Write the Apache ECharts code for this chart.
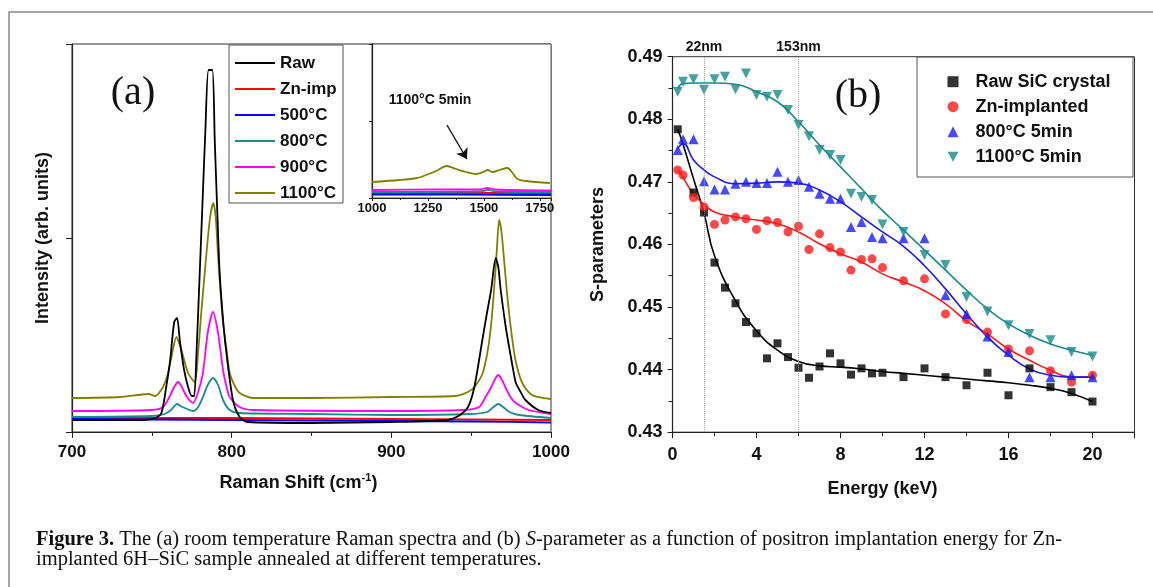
<!DOCTYPE html>
<html>
<head>
<meta charset="utf-8">
<title>Figure 3</title>
<script src="https://cdn.jsdelivr.net/npm/echarts@6.0.0/dist/echarts.min.js"></script>
<style>
  html, body { margin: 0; padding: 0; background: #fff; }
  #chart { width: 1153px; height: 587px; }
</style>
</head>
<body>
<div id="chart"></div>
<script>
  // (a) Raman spectra, [shift cm-1, intensity arb. units]
  const ramanRaw = [[700, 12], [745, 12], [752, 14], [756, 19], [759, 45], [761.5, 72], [764, 110], [765.8, 114],
    [767.5, 92], [770, 64], [772.5, 46], [775, 36], [776.5, 36], [778, 80], [780, 159], [782, 240], [783.5, 300],
    [785.5, 362], [787.9, 362], [789.4, 292], [791, 220], [792.5, 159], [795, 105], [797, 75], [800.8, 32], [805, 15],
    [810, 10], [850, 9], [900, 10], [935, 12], [942, 16], [948, 25], [952, 45], [957, 92], [960, 120], [962.5, 142],
    [965.4, 174], [967, 165], [968.5, 142], [971, 112], [973, 92], [976, 65], [978, 49], [981, 40], [984, 32],
    [992, 22], [1000, 19]]
  const ramanZn = [[700, 14], [750, 14], [800, 14], [850, 13.5], [900, 13], [950, 12.5], [1000, 12]]
  const raman500 = [[700, 13], [750, 12.5], [800, 12], [850, 11.5], [900, 11], [950, 10.5], [1000, 9.5]]
  const raman800 = [[700, 15], [750, 16], [758, 18], [762, 22], [765.8, 28], [768, 26], [770.6, 24], [775.8, 21],
    [779, 25], [782, 35], [785, 47], [788.3, 54], [791.5, 47], [794.6, 32], [798.75, 22], [805, 19], [850, 18],
    [900, 17], [950, 18], [960, 20], [964, 25], [967, 28], [970, 25], [974, 20], [980, 17], [1000, 14]]
  const raman900 = [[700, 21], [750, 22], [757, 25], [761, 35], [764, 45], [766.5, 50], [768.5, 46], [770.6, 39],
    [773, 33], [775.8, 29], [779, 40], [782, 59], [785, 99], [788.3, 120], [791.5, 99], [794.6, 62], [797, 44],
    [798.75, 35], [805, 25], [813, 22], [900, 21], [945, 22], [955, 25], [959, 35], [962.3, 44], [965, 53],
    [967, 57], [969, 53], [971.7, 44], [975, 34], [978, 29], [986, 22], [1000, 18]]
  const raman1100 = [[700, 34], [730, 35], [748, 38], [752, 36], [757, 45], [760, 58], [762.3, 75], [765.4, 95],
    [768.5, 82], [772.7, 59], [776.9, 50], [779, 80], [781, 120], [784, 175], [786.5, 215], [788.5, 229],
    [790, 215], [791.5, 175], [793, 140], [794.6, 109], [797, 80], [798.75, 59], [802, 46], [805, 39], [813, 34],
    [850, 34], [900, 35], [940, 36], [948, 40], [952, 45], [957, 58], [960, 78], [962, 100], [964, 135], [966, 180],
    [967.5, 212], [969, 200], [971, 165], [973, 130], [975.8, 92], [978, 70], [982, 49], [988, 37], [1000, 33]]

  // inset, 1000-1800 cm-1
  const insetRaw = [[1000, 4], [1400, 4], [1800, 3.5]]
  const insetZn = [[1000, 5], [1400, 5], [1800, 5]]
  const inset500 = [[1000, 3.5], [1400, 3.3], [1800, 3]]
  const inset800 = [[1000, 6], [1480, 6.5], [1520, 8], [1560, 6.5], [1800, 6]]
  const inset900 = [[1000, 8], [1300, 8.5], [1480, 8.5], [1515, 10], [1550, 8.5], [1800, 7.5]]
  const inset1100 = [[1000, 16], [1123, 18], [1200, 20], [1242, 23], [1287, 27], [1334, 32], [1376, 29],
    [1420, 26], [1465, 24], [1498, 26], [1517, 28], [1539, 26], [1569, 28], [1606, 30], [1628, 25], [1650, 19],
    [1688, 17], [1795, 15]]
  const arrowFrom = [1335, 73]
  const arrowTo = [1424, 39]

  const ramanNames = ['Raw', 'Zn-imp', '500°C', '800°C', '900°C', '1100°C']
  const ramanColors = ['#000000', '#ff0000', '#0000ff', '#1a8a8a', '#ff00ff', '#808000']
  const ramanData = [ramanRaw, ramanZn, raman500, raman800, raman900, raman1100]
  const insetData = [insetRaw, insetZn, inset500, inset800, inset900, inset1100]

  // (b) S-parameter vs positron energy
  const energy = [0.25, 0.5, 1, 1.5, 2, 2.5, 3, 3.5, 4, 4.5, 5, 5.5, 6, 6.5, 7, 7.5, 8, 8.5, 9, 9.5,
    10, 11, 12, 13, 14, 15, 16, 17, 18, 19, 20]
  const sRaw = [0.4784, null, 0.4683, 0.4651, 0.4571, 0.4531, 0.4506, 0.4476, 0.4458, 0.4418, 0.4442, 0.4420,
    0.4403, 0.4387, 0.4405, 0.4426, 0.4410, 0.4392, 0.4402, 0.4394, 0.4395, 0.4388, 0.4402, 0.4388, 0.4375,
    0.4395, 0.4359, 0.4402, 0.4372, 0.4364, 0.4349]
  const sZn = [0.4719, 0.4711, 0.4675, 0.4660, 0.4632, 0.4639, 0.4644, 0.4641, 0.4624, 0.4638, 0.4635, 0.4620,
    0.4629, 0.4592, 0.4617, 0.4595, 0.4588, 0.4559, 0.4576, 0.4577, 0.4563, 0.4542, 0.4545, 0.4489, 0.4480,
    0.4460, 0.4433, 0.4430, 0.4398, 0.4380, 0.4391]
  const s800 = [0.4751, 0.4768, 0.4768, 0.4701, 0.4688, 0.4688, 0.4697, 0.4700, 0.4698, 0.4698, 0.4716, 0.4700,
    0.4703, 0.4692, 0.4681, 0.4673, 0.4673, 0.4628, 0.4636, 0.4612, 0.4610, 0.4610, 0.4610, 0.4519, 0.4489,
    0.4453, 0.4428, 0.4388, 0.4388, 0.4391, 0.4388]
  const s1100 = [0.4844, 0.4860, 0.4864, 0.4847, 0.4864, 0.4868, 0.4848, 0.4873, 0.4839, 0.4836, 0.4839, 0.4815,
    0.4791, 0.4773, 0.4751, 0.4743, 0.4735, 0.4681, 0.4676, 0.4671, 0.4632, 0.4620, 0.4583, 0.4567, 0.4516,
    0.4493, 0.4471, 0.4457, 0.4447, 0.4428, 0.4421]

  const fitE = [0.25, 0.5, 1, 1.5, 2, 3, 4, 5, 6, 7, 8, 9, 10, 11, 12, 13, 14, 15, 16, 17, 18, 19, 20]
  const fitRaw = [0.4784, 0.4760, 0.4705, 0.4650, 0.4582, 0.4510, 0.4462, 0.4431, 0.4413, 0.4406, 0.4404, 0.4401,
    0.4397, 0.4394, 0.4391, 0.4388, 0.4385, 0.4382, 0.4379, 0.4375, 0.4370, 0.4362, 0.4349]
  const fitZn = [0.4720, 0.4707, 0.4681, 0.4664, 0.4652, 0.4644, 0.4639, 0.4633, 0.4620, 0.4601, 0.4585, 0.4572,
    0.4553, 0.4540, 0.4526, 0.4505, 0.4478, 0.4457, 0.4433, 0.4415, 0.4399, 0.4388, 0.4388]
  const fit800 = [0.4753, 0.4761, 0.4735, 0.4719, 0.4708, 0.4697, 0.4698, 0.4700, 0.4698, 0.4687, 0.4668, 0.4644,
    0.4620, 0.4597, 0.4566, 0.4529, 0.4489, 0.4452, 0.4423, 0.4401, 0.4391, 0.4388, 0.4388]
  const fit1100 = [0.4849, 0.4857, 0.4858, 0.4858, 0.4858, 0.4856, 0.4844, 0.4828, 0.4796, 0.4759, 0.4724, 0.4689,
    0.4654, 0.4623, 0.4591, 0.4559, 0.4527, 0.4497, 0.4473, 0.4455, 0.4441, 0.4431, 0.4423]

  const depthE = [1.5, 6]
  const depthLabels = ['22nm', '153nm']

  const sNames = ['Raw SiC crystal', 'Zn-implanted', '800°C 5min', '1100°C 5min']
  const sColors = ['#000000', '#ff1a1a', '#1a1aff', '#1a8a8a']
  const sSymbols = ['rect', 'circle', 'triangle', 'path://M0,0L10,0L5,9Z']
  const sSizes = [8, 9, 10, 10]
  const sData = [sRaw, sZn, s800, s1100]
  const fitData = [fitRaw, fitZn, fit800, fit1100]

  const SANS = '"Liberation Sans", Arial, sans-serif'
  const SERIF = '"Liberation Serif", "Times New Roman", serif'
  const AXIS_COLOR = '#222'

  function pairs(xs, ys) {
    let out = []
    for (let i = 0; i < xs.length; i++) {
      if (ys[i] != null) out.push([xs[i], ys[i]])
    }
    return out
  }

  let series = []
  ramanNames.forEach((name, i) => {
    series.push({
      name: name, type: 'line', xAxisIndex: 0, yAxisIndex: 0,
      data: ramanData[i], symbol: 'none', smooth: 0.25,
      lineStyle: { color: ramanColors[i], width: 1.8 }, itemStyle: { color: ramanColors[i] },
      z: i === 0 ? 3 : 2
    })
  })
  ramanNames.forEach((name, i) => {
    let s = {
      name: name, type: 'line', xAxisIndex: 1, yAxisIndex: 1,
      data: insetData[i], symbol: 'none', smooth: 0.3,
      lineStyle: { color: ramanColors[i], width: 1.8 }, itemStyle: { color: ramanColors[i] }
    }
    if (i === 5) {
      s.markLine = {
        silent: true, symbol: ['none', 'arrow'], symbolSize: 10,
        lineStyle: { color: '#111', width: 1.4, type: 'solid' },
        label: { show: false },
        data: [[{ coord: arrowFrom }, { coord: arrowTo }]]
      }
    }
    series.push(s)
  })
  sNames.forEach((name, i) => {
    let fit = {
      name: name + ' fit', type: 'line', xAxisIndex: 2, yAxisIndex: 2,
      data: pairs(fitE, fitData[i]), symbol: 'none', smooth: 0.5, silent: true,
      lineStyle: { color: sColors[i], width: 1.6 }, z: 2
    }
    if (i === 0) {
      fit.markLine = {
        silent: true, symbol: 'none',
        lineStyle: { color: '#999', width: 1, type: 'dotted' },
        label: {
          show: true, position: 'end', distance: 3, formatter: '{b}',
          fontFamily: SANS, fontSize: 14, fontWeight: 'bold', color: '#111'
        },
        data: depthE.map((e, k) => ({ xAxis: e, name: depthLabels[k] }))
      }
    }
    series.push(fit)
    series.push({
      name: name, type: 'scatter', xAxisIndex: 2, yAxisIndex: 2,
      data: pairs(energy, sData[i]), symbol: sSymbols[i], symbolSize: sSizes[i],
      itemStyle: { color: sColors[i] }, z: 3
    })
  })

  const axisLine = { show: true, lineStyle: { color: AXIS_COLOR, width: 1.2 } }
  const tickLabel = (size, margin) => ({
    fontFamily: SANS, fontSize: size, fontWeight: 'bold', color: '#111', margin: margin,
    formatter: v => String(v)
  })
  const nameStyle = { fontFamily: SANS, fontSize: 18, fontWeight: 'bold', color: '#111' }

  let option = {
    animation: false,
    backgroundColor: '#fff',
    grid: [
      { left: 72, top: 44, width: 479, height: 388, show: true, borderColor: '#333', borderWidth: 1 },
      { left: 372, top: 44, width: 179, height: 154, show: true, borderColor: '#555', borderWidth: 1, backgroundColor: '#fff' },
      { left: 672.5, top: 56.7, width: 462, height: 375.5, show: true, borderColor: '#333', borderWidth: 1 }
    ],
    xAxis: [
      {
        gridIndex: 0, type: 'value', min: 700, max: 1000, interval: 100,
        axisLine: axisLine, splitLine: { show: false },
        axisTick: { length: 6, lineStyle: { color: AXIS_COLOR } },
        minorTick: { show: true, splitNumber: 2, length: 4, lineStyle: { color: AXIS_COLOR } },
        axisLabel: tickLabel(17, 12),
        name: '{n|Raman Shift (cm}{sup|-1}{n|)}', nameLocation: 'middle', nameGap: 40,
        nameTextStyle: {
          padding: [0, 26, 0, 0],
          rich: {
            n: { fontFamily: SANS, fontSize: 18, fontWeight: 'bold', color: '#111', lineHeight: 22 },
            sup: { fontFamily: SANS, fontSize: 11, fontWeight: 'bold', color: '#111', lineHeight: 12, verticalAlign: 'top' }
          }
        }
      },
      {
        gridIndex: 1, type: 'value', min: 1000, max: 1800, interval: 250,
        axisLine: axisLine, splitLine: { show: false },
        axisTick: { length: 3, lineStyle: { color: AXIS_COLOR } },
        minorTick: { show: true, splitNumber: 2, length: 2, lineStyle: { color: AXIS_COLOR } },
        axisLabel: Object.assign(tickLabel(13, 4), { showMaxLabel: false })
      },
      {
        gridIndex: 2, type: 'value', min: 0, max: 22, interval: 4,
        axisLine: axisLine, splitLine: { show: false },
        axisTick: { length: 6, lineStyle: { color: AXIS_COLOR } },
        minorTick: { show: true, splitNumber: 2, length: 4, lineStyle: { color: AXIS_COLOR } },
        axisLabel: Object.assign(tickLabel(18, 14), { showMaxLabel: false }),
        name: 'Energy (keV)', nameLocation: 'middle', nameGap: 48,
        nameTextStyle: Object.assign({ padding: [0, 42, 0, 0] }, nameStyle)
      }
    ],
    yAxis: [
      {
        gridIndex: 0, type: 'value', min: 0, max: 388, interval: 194,
        axisLine: axisLine, splitLine: { show: false },
        axisTick: { length: 6, lineStyle: { color: AXIS_COLOR } },
        axisLabel: { show: false },
        name: 'Intensity (arb. units)', nameLocation: 'middle', nameGap: 20, nameRotate: 90,
        nameTextStyle: nameStyle
      },
      {
        gridIndex: 1, type: 'value', min: 0, max: 154, interval: 77,
        axisLine: axisLine, splitLine: { show: false },
        axisTick: { length: 3, lineStyle: { color: AXIS_COLOR } },
        axisLabel: { show: false }
      },
      {
        gridIndex: 2, type: 'value', min: 0.43, max: 0.49, interval: 0.01,
        axisLine: axisLine, splitLine: { show: false },
        axisTick: { length: 5, lineStyle: { color: AXIS_COLOR } },
        minorTick: { show: true, splitNumber: 2, length: 4, lineStyle: { color: AXIS_COLOR } },
        axisLabel: Object.assign(tickLabel(18, 10), { formatter: v => v.toFixed(2) }),
        name: 'S-parameters', nameLocation: 'middle', nameGap: 65, nameRotate: 90,
        nameTextStyle: nameStyle
      }
    ],
    legend: [
      {
        data: ramanNames, orient: 'vertical', left: 235, top: 54, padding: 0,
        icon: 'rect', itemWidth: 40, itemHeight: 2, itemGap: 8, selectedMode: false,
        textStyle: { fontFamily: SANS, fontSize: 17, fontWeight: 'bold', color: '#111', lineHeight: 18 }
      },
      {
        data: sNames, orient: 'vertical', left: 947.5, top: 71.7, padding: 0,
        itemWidth: 11, itemHeight: 11, itemGap: 5, selectedMode: false,
        textStyle: { fontFamily: SANS, fontSize: 18, fontWeight: 'bold', color: '#111', lineHeight: 20, padding: [0, 0, 0, 12] }
      }
    ],
    graphic: [
      { type: 'rect', silent: true, z: -10, shape: { x: 9, y: 12, width: 1160, height: 600 },
        style: { fill: 'none', stroke: '#888', lineWidth: 1.5 } },
      { type: 'rect', silent: true, shape: { x: 229, y: 45, width: 114, height: 158 },
        style: { fill: 'none', stroke: '#555', lineWidth: 1 } },
      { type: 'rect', silent: true, shape: { x: 917, y: 57, width: 216, height: 120 },
        style: { fill: 'none', stroke: '#555', lineWidth: 1 } },
      { type: 'text', silent: true, x: 133, y: 93,
        style: { text: '(a)', fontFamily: SERIF, fontSize: 40, fill: '#111', align: 'center', verticalAlign: 'middle' } },
      { type: 'text', silent: true, x: 858, y: 96,
        style: { text: '(b)', fontFamily: SERIF, fontSize: 40, fill: '#111', align: 'center', verticalAlign: 'middle' } },
      { type: 'text', silent: true, x: 430, y: 100,
        style: { text: '1100°C 5min', fontFamily: SANS, fontSize: 14, fontWeight: 'bold', fill: '#111', align: 'center', verticalAlign: 'middle' } },
      { type: 'text', silent: true, x: 36, y: 530,
        style: {
          text: '{b|Figure 3.} The (a) room temperature Raman spectra and (b) {i|S}-parameter as a function of positron implantation energy for Zn-\nimplanted 6H–SiC sample annealed at different temperatures.',
          fontFamily: SERIF, fontSize: 20.5, lineHeight: 20, fill: '#111',
          rich: {
            b: { fontFamily: SERIF, fontSize: 20.5, fontWeight: 'bold', lineHeight: 20, fill: '#111' },
            i: { fontFamily: SERIF, fontSize: 20.5, fontStyle: 'italic', lineHeight: 20, fill: '#111' }
          }
        } }
    ],
    series: series
  }

  let chart = echarts.init(document.getElementById('chart'))
  chart.setOption(option)
  window.addEventListener('resize', () => chart.resize())
</script>
</body>
</html>
